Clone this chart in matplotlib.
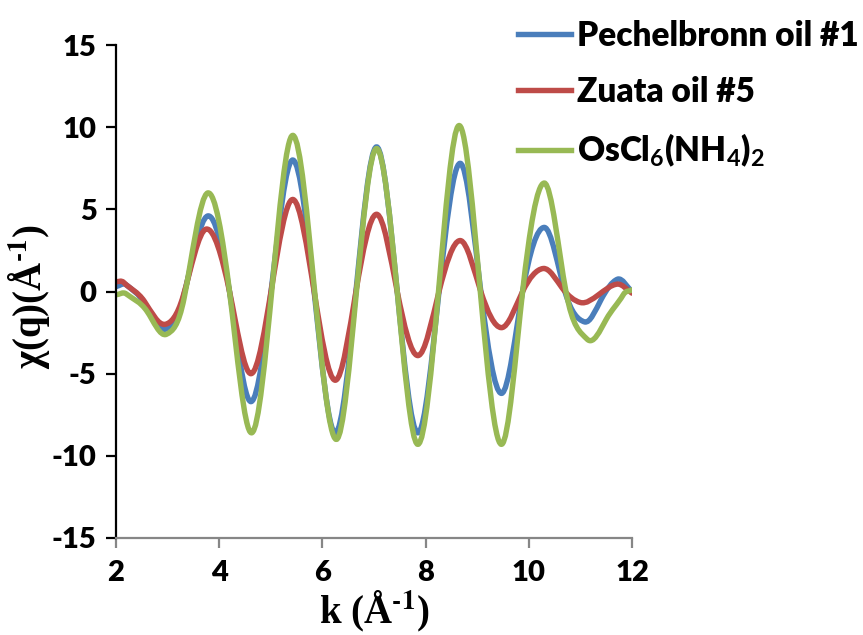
import matplotlib
matplotlib.use('Agg')
import matplotlib.pyplot as plt
from matplotlib.path import Path
from matplotlib.patches import PathPatch
from matplotlib.lines import Line2D
import numpy as np

# values (extrema and crossings of each curve)
k_pech = [2.0, 2.2, 2.55, 2.95, 3.3, 3.78, 4.2, 4.62, 5.02, 5.43, 5.84, 6.25, 6.65,
          7.05, 7.45, 7.85, 8.26, 8.67, 9.07, 9.47, 9.88, 10.3, 10.7, 11.08, 11.4, 11.72, 12.0]
chi_pech = [0.3, 0.4, -0.7, -2.3, -0.4, 4.6, 0.0, -6.7, 0.4, 8.0, 0.0, -8.6, 0.0,
            8.8, 0.0, -8.6, 0.0, 7.8, 0.0, -6.2, 0.0, 3.9, 0.0, -1.85, -0.5, 0.75, 0.0]

k_zuata = [2.0, 2.15, 2.55, 2.95, 3.3, 3.75, 4.2, 4.62, 5.02, 5.43, 5.84, 6.25, 6.65,
           7.05, 7.45, 7.85, 8.26, 8.67, 9.07, 9.47, 9.88, 10.28, 10.65, 11.0, 11.35, 11.72, 12.0]
chi_zuata = [0.6, 0.55, -0.6, -2.0, -0.3, 3.8, 0.0, -5.0, 0.3, 5.6, 0.0, -5.4, 0.0,
             4.7, 0.0, -3.9, 0.0, 3.1, 0.0, -2.2, 0.0, 1.4, 0.2, -0.67, -0.2, 0.45, -0.1]

k_oscl = [2.0, 2.2, 2.6, 2.98, 3.32, 3.78, 4.2, 4.63, 5.03, 5.43, 5.85, 6.27, 6.66,
          7.05, 7.45, 7.85, 8.25, 8.65, 9.06, 9.47, 9.88, 10.3, 10.72, 11.13, 11.5, 11.83, 12.0]
chi_oscl = [-0.2, -0.15, -1.2, -2.6, -0.4, 6.0, 0.0, -8.6, 0.4, 9.5, 0.0, -9.0, 0.0,
            8.7, 0.0, -9.3, 0.0, 10.1, 0.0, -9.3, 0.0, 6.6, 0.0, -2.9, -1.7, -0.2, 0.1]

labels = ['Pechelbronn oil #1', 'Zuata oil #5', r'OsCl$_\mathrm{6}$(NH$_\mathrm{4}$)$_\mathrm{2}$']
colors = ['#4A7EBB', '#BE4B48', '#98B954']

plt.rcParams['mathtext.fontset'] = 'custom'
plt.rcParams['mathtext.rm'] = 'Lato:bold'
plt.rcParams['axes.unicode_minus'] = False


def smooth_path(k, y, factor=1.45):
    # excel-like smoothed line: cubic bezier through the points
    k = np.asarray(k, float)
    y = np.asarray(y, float)
    n = len(k)
    m = np.zeros(n)
    for i in range(1, n - 1):
        m[i] = factor * (y[i + 1] - y[i - 1]) / (k[i + 1] - k[i - 1])
    m[0] = (y[1] - y[0]) / (k[1] - k[0])
    m[-1] = (y[-1] - y[-2]) / (k[-1] - k[-2])
    verts = [(k[0], y[0])]
    codes = [Path.MOVETO]
    for i in range(n - 1):
        dx = k[i + 1] - k[i]
        verts += [(k[i] + dx / 3, y[i] + m[i] * dx / 3),
                  (k[i + 1] - dx / 3, y[i + 1] - m[i + 1] * dx / 3),
                  (k[i + 1], y[i + 1])]
        codes += [Path.CURVE4] * 3
    return Path(verts, codes)


fig = plt.figure(figsize=(8.63, 6.35), dpi=100)
ax = fig.add_axes([116 / 863, 1 - 538 / 635, (632 - 116) / 863, (538 - 45) / 635])

lw = 3.9
for kk, cc, col in zip([k_pech, k_zuata, k_oscl], [chi_pech, chi_zuata, chi_oscl], colors):
    ax.add_patch(PathPatch(smooth_path(kk, cc), facecolor='none', edgecolor=col,
                           lw=lw, capstyle='round', joinstyle='round'))

ax.set_xlim(2, 12)
ax.set_ylim(-15, 15)
ax.set_xticks([2, 4, 6, 8, 10, 12])
ax.set_yticks([-15, -10, -5, 0, 5, 10, 15])

for s in ['top', 'right']:
    ax.spines[s].set_visible(False)
ax.spines['left'].set_color('black')
ax.spines['left'].set_linewidth(1.6)
ax.spines['bottom'].set_color('#868686')
ax.spines['bottom'].set_linewidth(1.6)
ax.tick_params(axis='y', direction='out', length=7, width=1.6, color='black', pad=7)
ax.tick_params(axis='x', direction='out', length=7, width=1.6, color='#868686', pad=9)
for t in ax.get_xticklabels() + ax.get_yticklabels():
    t.set_fontfamily('Lato')
    t.set_fontweight('heavy')
    t.set_fontsize(21)

sup = '\u2010' + '1'
ax.set_xlabel('k (Å$^{\\mathbf{' + sup + '}}$)', fontfamily='Liberation Serif', fontweight='bold',
              fontsize=28, math_fontfamily='stix', labelpad=2)
ax.set_ylabel('χ(q)(Å$^{\\mathbf{' + sup + '}}$)', fontfamily='Liberation Serif', fontweight='bold',
              fontsize=28, math_fontfamily='stix')
ax.yaxis.set_label_coords(-0.125, 0.49)

handles = [Line2D([], [], color=c, lw=lw) for c in colors]
leg = ax.legend(handles, labels, loc='upper left', bbox_to_anchor=(518 / 863, 1 - 20 / 635),
                bbox_transform=fig.transFigure, frameon=False, handlelength=1.6,
                handletextpad=0.18, borderpad=0, borderaxespad=0, labelspacing=0.72,
                prop={'family': 'Lato', 'weight': 'heavy', 'size': 24})

fig.savefig('out.png', dpi=100)
